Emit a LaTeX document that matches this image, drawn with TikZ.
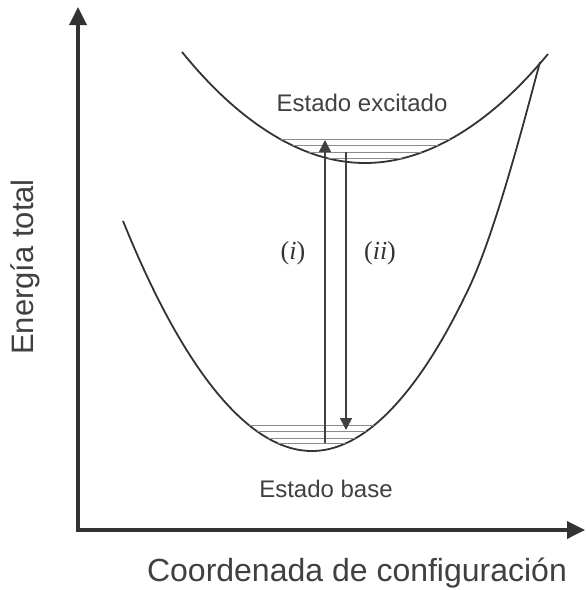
\documentclass[tikz,border=0pt]{standalone}
\usepackage{fontspec}
\setmainfont{Liberation Sans}
\newfontfamily\serif{Liberation Serif}
\usetikzlibrary{arrows.meta}

\begin{document}
\begin{tikzpicture}[x=1pt, y=-1pt,
  axis/.style={line width=3.5pt, draw=black!80, line join=miter,
    {Triangle[length=18pt,width=17pt]}-{Triangle[length=18pt,width=17pt]}},
  curve/.style={line width=1.8pt, draw=black!80},
  level/.style={line width=0.9pt, draw=black!45},
  trans/.style={line width=1.4pt, draw=black!75, -{Triangle[length=12pt,width=12pt]}},
  lbl/.style={text=black!75, inner sep=0pt, font=\fontsize{24}{28}\selectfont},
  axlbl/.style={text=black!75, inner sep=0pt, font=\fontsize{31}{36}\selectfont},
  trlbl/.style={text=black!80, inner sep=0pt, font=\serif\fontsize{26}{30}\selectfont}]
  \useasboundingbox (0,0) rectangle (586,590);

  % axes
  \coordinate (o) at (78,530);
  \coordinate (ytop) at (78,7);
  \coordinate (xend) at (585,530);
  \draw[axis] (ytop) -- (o) -- (xend);
  \node[axlbl, rotate=90, anchor=base] (ylab) at (33,267) {Energía total};
  \node[axlbl, anchor=base, font=\fontsize{32}{36}\selectfont] (xlab) at (357,581) {Coordenada de configuración};

  % excited state
  \draw[curve] (182,52) parabola bend (365,163) (548,54);
  \begin{scope}
    \clip (182,52) parabola bend (365,163) (548,54) -- cycle;
    \foreach \y in {139,145,152,158}
      \draw[level] (150,\y) -- (580,\y);
  \end{scope}
  \node[lbl, anchor=base] (exc) at (362,111) {Estado excitado};

  % ground state
  \draw[curve] (123,221) parabola bend (312,451) (468,290)
    .. controls (496,232) and (527,110) .. (540,62);
  \begin{scope}
    \clip (123,221) parabola bend (312,451) (468,290)
      .. controls (496,232) and (527,110) .. (540,62) -- cycle;
    \foreach \y in {425,431,438,443}
      \draw[level] (100,\y) -- (580,\y);
  \end{scope}
  \node[lbl, anchor=base] (gnd) at (326,497) {Estado base};

  % transitions
  \coordinate (up0) at (325,443);
  \coordinate (up1) at (325,140);
  \coordinate (dn0) at (346,152);
  \coordinate (dn1) at (346,430);
  \draw[trans] (up0) -- (up1);
  \draw[trans] (dn0) -- (dn1);
  \node[trlbl] (lab-i) at (293,253) {(\textit{i})};
  \node[trlbl] (lab-ii) at (380,253) {(\textit{ii})};
\end{tikzpicture}
\end{document}
